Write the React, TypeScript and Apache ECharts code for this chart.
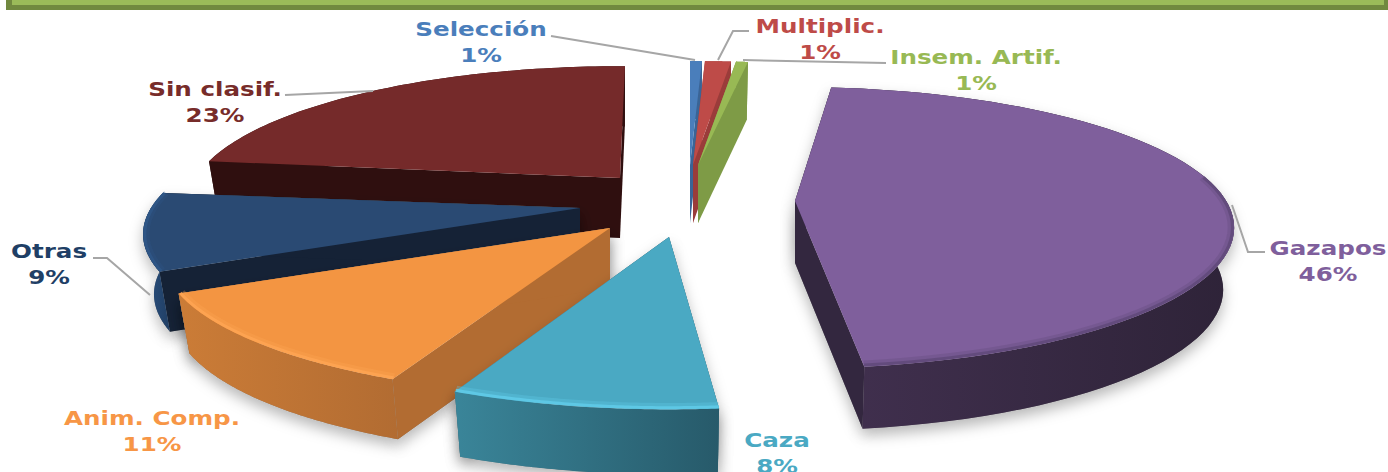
import React, { useEffect, useRef } from "react";
import * as echarts from "echarts";

const categories = ["Selección", "Multiplic.", "Insem. Artif.", "Gazapos", "Caza", "Anim. Comp.", "Otras", "Sin clasif."];
const values = [0.55, 1.2, 0.55, 46, 8, 11, 9, 23];
const paintOrder = [7, 0, 1, 2, 6, 5, 4, 3];

const topColours = ["#4a7ebb", "#be4b48", "#98b954", "#7f5f9c", "#4aa9c3", "#f39542", "#2a4a73", "#752a2a"];
const labelColours = ["#4a7ebb", "#be4b48", "#98b954", "#7f5f9c", "#4aa9c3", "#f79646", "#1f3f66", "#772c2a"];
const wallColours = ["#3a6496", "#9a3c3a", "#7e9b46", "#33273f", "#2f7186", "#b26c32", "#152236", "#2f0f0f"];
const rimLeft = ["#3a6496", "#9a3c3a", "#7e9b46", "#41304f", "#3a8599", "#cb7c37", "#2b5282", "#2f0f0f"];
const rimRight = ["#3a6496", "#9a3c3a", "#7e9b46", "#2e2338", "#275a6a", "#b26c32", "#1f3c60", "#2f0f0f"];
const bevels = [null, null, null, "#5f4878", "#62cdea", "#ffa554", "#2f5788", null];

const apexX = [690, 693, 698, 795, 669, 610, 580, 620];
const apexY = [165, 165, 165, 201, 237, 228, 208, 178];
const turns = [0, 0, 0, -2.6, -0.4, 0, 0, 0.8];
const radiusXScale = [0.93, 0.93, 0.93, 0.98, 1, 1, 0.975, 0.965];
const radiusYScale = [0.93, 0.93, 0.93, 1.02, 1.05, 1.03, 1, 1];
const depths = [58, 58, 58, 62, 65, 60, 60, 60];

const RX = 440;
const RY = 133;
const PERSPECTIVE = 0.19;
const BASE_SCALE = 0.975;
const TEXT_STRETCH = 1.23;

const labelX = [481, 820, 976, 1328, 777, 152, 49, 215];
const labelY = [29, 26, 57, 248, 440, 418, 251, 89];
const leaders = [
  [[551, 36], [695, 60]],
  [[749, 31], [733, 31], [718, 60]],
  [[886, 63], [743, 60]],
  [[1265, 252], [1248, 252], [1232, 205]],
  [],
  [],
  [[93, 258], [107, 258], [150, 295]],
  [[285, 95], [373, 91]],
];

const total = values.reduce((a, b) => a + b, 0);

function sliceShapes(index: number) {
  const before = values.slice(0, index).reduce((a, b) => a + b, 0);
  const turn = turns[index];
  const a0 = (before / total) * 360 + turn;
  const a1 = ((before + values[index]) / total) * 360 + turn;
  const cx = apexX[index];
  const cy = apexY[index];
  const depth = depths[index];
  const top: number[][] = [];
  const innerNear: number[][] = [];
  const innerFar: number[][] = [];
  const bottom: number[][] = [];
  const steps = 70;
  for (let i = 0; i <= steps; i++) {
    const t = ((a0 + ((a1 - a0) * i) / steps) * Math.PI) / 180;
    const s = 1 / (1 + PERSPECTIVE * Math.cos(t));
    const dx = RX * radiusXScale[index] * Math.sin(t) * s;
    const dy = -RY * radiusYScale[index] * Math.cos(t) * s;
    top.push([cx + dx, cy + dy]);
    if (Math.cos(t) < 0.2) {
      innerNear.push([cx + dx * 0.996, cy + dy * 0.99]);
      innerFar.push([cx + dx * 0.992, cy + dy * 0.98]);
    }
    bottom.push([cx + dx * BASE_SCALE, cy + dy + depth]);
  }
  const apexB = [cx, cy + depth];
  return {
    innerNear,
    innerFar,
    rim: [...top, ...bottom.slice().reverse()],
    faceA: [[cx, cy], top[0], bottom[0], apexB],
    faceB: [[cx, cy], top[steps], bottom[steps], apexB],
    face: [[cx, cy], ...top],
  };
}

function renderSlice(params: any, api: any) {
  const index = api.value(0);
  const g = sliceShapes(index);
  const children: any[] = [];
  if (index >= 3 && index <= 6) {
    const shadow = { fill: "#888888", shadowBlur: 14, shadowColor: "rgba(0,0,0,0.28)", shadowOffsetX: 0, shadowOffsetY: 7 };
    [g.faceA, g.faceB, g.rim].forEach((pts) =>
      children.push({ type: "polygon", shape: { points: pts }, style: shadow })
    );
  }
  [g.faceA, g.faceB].forEach((pts) =>
    children.push({ type: "polygon", shape: { points: pts }, style: { fill: wallColours[index] } })
  );
  children.push({
    type: "polygon",
    shape: { points: g.rim },
    style: {
      fill: {
        type: "linear",
        x: 0,
        y: 0,
        x2: 1,
        y2: 0,
        colorStops: [
          { offset: 0, color: rimLeft[index] },
          { offset: 1, color: rimRight[index] },
        ],
      },
    },
  });
  children.push({ type: "polygon", shape: { points: g.face }, style: { fill: topColours[index] } });
  const bevel = bevels[index];
  if (bevel && g.innerNear.length > 1) {
    children.push({
      type: "polyline",
      shape: { points: g.innerFar },
      style: { stroke: bevel, lineWidth: 6, fill: "none", opacity: 0.3 },
    });
    children.push({
      type: "polyline",
      shape: { points: g.innerNear },
      style: { stroke: bevel, lineWidth: 3, fill: "none", opacity: 0.8 },
    });
  }
  return { type: "group", children };
}

function labelElements() {
  const out: any[] = [];
  categories.forEach((name, i) => {
    if (leaders[i].length) {
      out.push({
        type: "polyline",
        shape: { points: leaders[i] },
        style: { stroke: "#a6a6a6", lineWidth: 2, fill: "none" },
        z: 20,
      });
    }
    const base = { fill: labelColours[i], font: 'bold 20px "DejaVu Sans"', textAlign: "center", textVerticalAlign: "middle" };
    out.push({ type: "text", x: labelX[i], y: labelY[i], scaleX: TEXT_STRETCH, z: 21, style: { ...base, text: name } });
    out.push({
      type: "text",
      x: labelX[i],
      y: labelY[i] + 26,
      scaleX: TEXT_STRETCH,
      z: 21,
      style: { ...base, text: `${Math.round((values[i] / total) * 100)}%` },
    });
  });
  return out;
}

export default function App() {
  const ref = useRef<HTMLDivElement>(null);
  useEffect(() => {
    document.body.style.margin = "0";
    const chart = echarts.init(ref.current!, null, { renderer: "svg" });
    chart.setOption({
      animation: false,
      backgroundColor: "#ffffff",
      graphic: [
        { type: "rect", shape: { x: 6, y: -10, width: 1382, height: 20 }, style: { fill: "#71893f" }, z: 1 },
        { type: "rect", shape: { x: 12, y: -10, width: 1372, height: 15 }, style: { fill: "#9bbb59" }, z: 2 },
        ...labelElements(),
      ],
      series: [
        {
          type: "custom",
          coordinateSystem: "none",
          silent: true,
          renderItem: renderSlice,
          data: paintOrder.map((i) => [i, values[i]]),
        },
      ],
    });
    return () => chart.dispose();
  }, []);
  return <div ref={ref} style={{ width: 1388, height: 472 }} />;
}
